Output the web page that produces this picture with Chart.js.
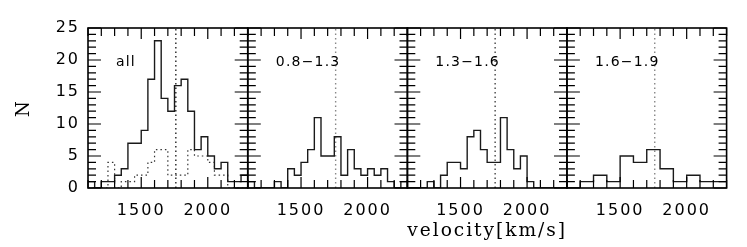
<!DOCTYPE html>
<html><head><meta charset="utf-8">
<script src="https://cdn.jsdelivr.net/npm/chart.js@4.4.1/dist/chart.umd.min.js"></script>
<style>
html,body{margin:0;padding:0;background:#fff;width:747px;height:247px;overflow:hidden}
.wrap{position:relative;width:747px;height:247px}
canvas{position:absolute;left:0;top:0}
</style></head><body><div class="wrap">
<canvas id="p0" width="747" height="247"></canvas>
<canvas id="p1" width="747" height="247"></canvas>
<canvas id="p2" width="747" height="247"></canvas>
<canvas id="p3" width="747" height="247"></canvas>
</div>
<script>
// ---- data ----
const edges50  = [1100,1150,1200,1250,1300,1350,1400,1450,1500,1550,1600,1650,1700,1750,1800,1850,1900,1950,2000,2050,2100,2150,2200,2250,2300];
const edges100 = [1100,1200,1300,1400,1500,1600,1700,1800,1900,2000,2100,2200,2300];
const countsAll       = [1,0,1,1,2,3,7,7,9,17,23,14,12,16,17,12,6,8,5,3,4,1,1,2];
const countsAllDotted = [0,0,0,4,0,1,1,2,2,4,6,6,2,2,2,6,5,5,4,2,2,0,0,0];
const counts08_13     = [1,0,0,0,1,0,3,2,4,6,11,5,5,8,2,6,3,2,3,2,3,1,0,1];
const counts13_16     = [0,0,0,1,0,2,4,4,3,8,9,6,4,4,11,6,3,5,1,0,0,0,0,0];
const counts16_19     = [0,1,2,1,5,4,6,3,1,2,1,1];
const meanVelocity = 1760;
const panelLabels = ['all', '0.8\u22121.3', '1.3\u22121.6', '1.6\u22121.9'];
const xTickLabels = [1500, 2000];
const yTickLabels = [0, 5, 10, 15, 20, 25];
const xMinorTicks = [1100,1200,1300,1400,1500,1600,1700,1800,1900,2000,2100,2200,2300];
const yMinorTicks = [0,1,2,3,4,5,6,7,8,9,10,11,12,13,14,15,16,17,18,19,20,21,22,23,24,25];
const xTitle = 'velocity[km/s]';
const yTitle = 'N';

// ---- helpers ----
function stepPoints(edges, counts) {
  const pts = counts.map((c, i) => ({x: edges[i], y: c}));
  pts.push({x: edges[edges.length - 1], y: counts[counts.length - 1]});
  return pts;
}
function meanLine() { return [{x: meanVelocity, y: 0}, {x: meanVelocity, y: 25}]; }

const W = 747, H = 247;
const lefts = [88, 247.8, 407.3, 566.9];
const pw = 159.7;
const top0 = 28, bottom0 = 188;

const framePlugin = {
  id: 'frame',
  beforeDraw(chart) { chart.ctx.letterSpacing = '2px'; },
  afterDraw(chart, args, opts) {
    const {ctx, chartArea: {left, right, top, bottom}, scales: {x, y}} = chart;
    ctx.save();
    ctx.strokeStyle = '#000';
    ctx.lineWidth = 1.2;
    ctx.beginPath();
    for (const v of xMinorTicks) {
      const px = x.getPixelForValue(v);
      const len = xTickLabels.includes(v) ? 11 : 8;
      ctx.moveTo(px, bottom); ctx.lineTo(px, bottom - len);
      ctx.moveTo(px, top); ctx.lineTo(px, top + len);
    }
    for (const v of yMinorTicks) {
      const py = y.getPixelForValue(v);
      const len = yTickLabels.includes(v) ? 13 : 8;
      ctx.moveTo(left, py); ctx.lineTo(left + len, py);
      ctx.moveTo(right, py); ctx.lineTo(right - len, py);
    }
    ctx.stroke();
    ctx.lineWidth = 1.6;
    ctx.strokeRect(left, top, right - left, bottom - top);
    ctx.fillStyle = '#000';
    ctx.font = '14px "DejaVu Sans", sans-serif';
    ctx.letterSpacing = '1.2px';
    ctx.textBaseline = 'middle';
    ctx.textAlign = 'left';
    ctx.fillText(opts.label, left + 28, top + 34);
    ctx.restore();
  }
};

function makeChart(idx, datasets) {
  const isFirst = idx === 0;
  const yW = isFirst ? 88 : 0;
  const L = lefts[idx];
  return new Chart(document.getElementById('p' + idx), {
    type: 'line',
    data: {datasets},
    options: {
      responsive: false,
      animation: false,
      devicePixelRatio: 1,
      layout: {padding: {left: L - yW, right: W - (L + pw), top: top0, bottom: 0}},
      plugins: {legend: {display: false}, tooltip: {enabled: false}, title: {display: false},
                frame: {label: panelLabels[idx]}},
      elements: {point: {radius: 0}, line: {tension: 0}},
      scales: {
        x: {
          type: 'linear', min: 1100, max: 2300,
          grid: {display: false, drawTicks: false},
          border: {display: false},
          afterBuildTicks: s => { s.ticks = xTickLabels.map(v => ({value: v})); },
          afterFit: s => { s.height = H - bottom0; },
          ticks: {padding: 13, color: '#000', font: {family: '"DejaVu Sans", sans-serif', size: 16}, maxRotation: 0, autoSkip: false,
                  callback: v => String(v)},
          title: {display: idx === 2, text: xTitle, color: '#000', padding: {top: 0, bottom: 5},
                  font: {family: '"DejaVu Serif", serif', size: 19}}
        },
        y: {
          type: 'linear', min: 0, max: 25,
          grid: {display: false, drawTicks: false},
          border: {display: false},
          afterBuildTicks: s => { s.ticks = yTickLabels.map(v => ({value: v})); },
          afterFit: s => { s.width = yW; },
          ticks: {display: isFirst, padding: 8, color: '#000', font: {family: '"DejaVu Sans", sans-serif', size: 16},
                  callback: v => String(v)},
          title: {display: isFirst, text: yTitle, color: '#000', padding: {top: 14, bottom: 0},
                  font: {family: '"DejaVu Serif", serif', size: 18}}
        }
      }
    },
    plugins: [framePlugin]
  });
}

const histStyle = {borderColor: '#1a1a1a', borderWidth: 1.4, stepped: 'before', fill: false, pointRadius: 0};
const meanStyle = (c) => ({borderColor: c, borderWidth: 1.4, borderDash: [1.5, 3], fill: false, pointRadius: 0});

makeChart(0, [
  Object.assign({label: 'all', data: stepPoints(edges50, countsAll)}, histStyle),
  Object.assign({label: 'subsample', data: stepPoints(edges50, countsAllDotted)}, histStyle, {borderColor: '#333', borderDash: [1.5, 3], borderWidth: 1.2}),
  Object.assign({label: 'mean', data: meanLine()}, meanStyle('#222'))
]);
makeChart(1, [
  Object.assign({label: '0.8-1.3', data: stepPoints(edges50, counts08_13)}, histStyle),
  Object.assign({label: 'mean', data: meanLine()}, meanStyle('#888'))
]);
makeChart(2, [
  Object.assign({label: '1.3-1.6', data: stepPoints(edges50, counts13_16)}, histStyle),
  Object.assign({label: 'mean', data: meanLine()}, meanStyle('#444'))
]);
makeChart(3, [
  Object.assign({label: '1.6-1.9', data: stepPoints(edges100, counts16_19)}, histStyle),
  Object.assign({label: 'mean', data: meanLine()}, meanStyle('#888'))
]);
</script>
</body></html>
